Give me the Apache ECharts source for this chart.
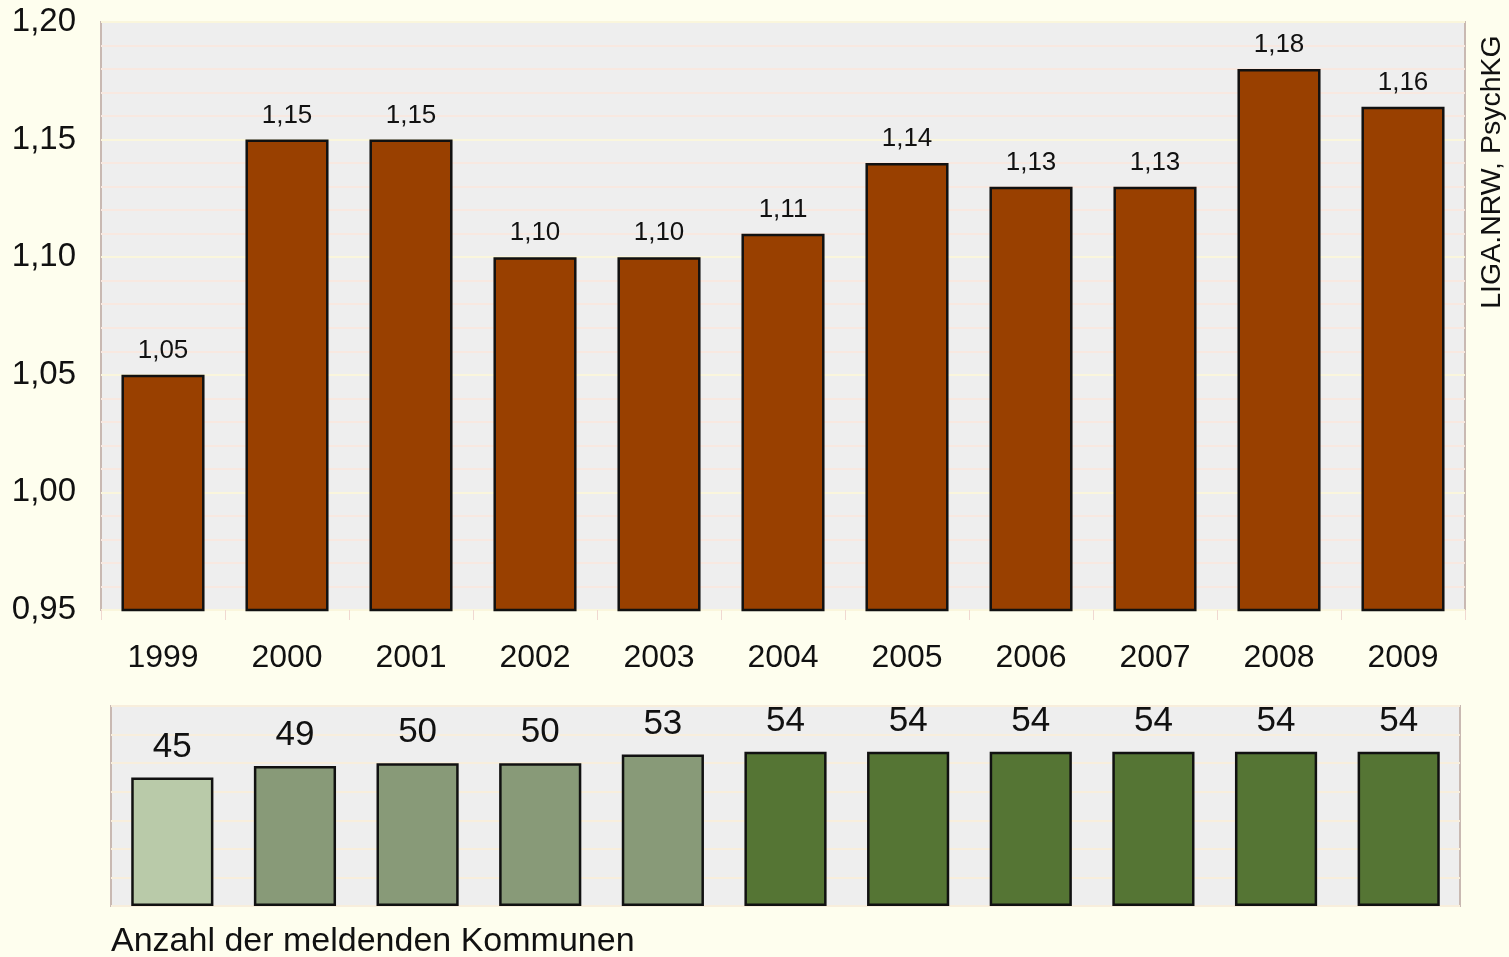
<!DOCTYPE html>
<html><head><meta charset="utf-8">
<script src="https://cdn.jsdelivr.net/npm/echarts@6/dist/echarts.min.js"></script>
<style>html,body{margin:0;padding:0;background:#fefeee;}#c{width:1509px;height:957px;}</style>
</head><body><div id="c"></div>
<script>
const years = ['1999','2000','2001','2002','2003','2004','2005','2006','2007','2008','2009'];
const ratio = [1.05, 1.15, 1.15, 1.10, 1.10, 1.11, 1.14, 1.13, 1.13, 1.18, 1.164];
const kommunen = [45, 49, 50, 50, 53, 54, 54, 54, 54, 54, 54];
const sourceText = 'LIGA.NRW, PsychKG';
const captionText = 'Anzahl der meldenden Kommunen';

const font = 'Liberation Sans, Arial, sans-serif';
const fmt = v => v.toFixed(2).replace('.', ',');
function greenFor(v){ if (v <= 45) return '#b9caa9'; if (v < 54) return '#889a78'; return '#557534'; }

const chart = echarts.init(document.getElementById('c'), null, {renderer:'canvas'});
chart.setOption({
  backgroundColor: '#fefeee',
  animation: false,
  textStyle: {fontFamily: font},
  grid: [
    {left:101, top:22, width:1364, height:588, show:true, backgroundColor:'#eeeeee', borderColor:'#c9b9b2', borderWidth:2},
    {left:111, top:706, width:1349, height:200, show:true, backgroundColor:'#eeeeee', borderColor:'#c9b9b2', borderWidth:2}
  ],
  xAxis: [
    {type:'category', gridIndex:0, data:years,
     axisLine:{show:false}, axisTick:{show:true, length:10, lineStyle:{color:'#f0d8d0'}},
     axisLabel:{fontSize:32, color:'#111', margin:32, fontFamily:font}},
    {type:'category', gridIndex:1, data:years, axisLine:{show:false}, axisTick:{show:false}, axisLabel:{show:false}}
  ],
  yAxis: [
    {type:'value', gridIndex:0, min:0.95, max:1.20, interval:0.05,
     axisLine:{show:false}, axisTick:{show:false},
     axisLabel:{fontSize:33, color:'#111', margin:25, formatter:fmt, fontFamily:font},
     splitLine:{show:true, lineStyle:{color:'#faf6dc', width:2}},
     minorTick:{show:false, splitNumber:5},
     minorSplitLine:{show:true, lineStyle:{color:'#f8e8e0', width:2}}},
    {type:'value', gridIndex:1, min:0, max:70, interval:10,
     axisLine:{show:false}, axisTick:{show:false}, axisLabel:{show:false},
     splitLine:{show:true, lineStyle:{color:'#f8eedc', width:2}}}
  ],
  series: [
    {type:'bar', xAxisIndex:0, yAxisIndex:0, data:ratio, barWidth:'67%',
     itemStyle:{color:'#994000', borderColor:'#111', borderWidth:2.5},
     label:{show:true, position:'top', distance:11, fontSize:26, color:'#111', fontFamily:font, formatter:p=>fmt(p.value)}},
    {type:'bar', xAxisIndex:1, yAxisIndex:1, data:kommunen, barWidth:'67%',
     itemStyle:{color:p=>greenFor(p.value), borderColor:'#111', borderWidth:2.5},
     label:{show:true, position:'top', distance:13, fontSize:35, color:'#111', fontFamily:font}}
  ],
  graphic: [
    {type:'text', left:111, top:925, style:{text:captionText, font:'34px '+font, fill:'#111'}},
    {type:'text', x:1492, y:172, rotation:Math.PI/2, style:{text:sourceText, font:'28.5px '+font, fill:'#111', align:'center', verticalAlign:'middle'}}
  ]
});
</script></body></html>
